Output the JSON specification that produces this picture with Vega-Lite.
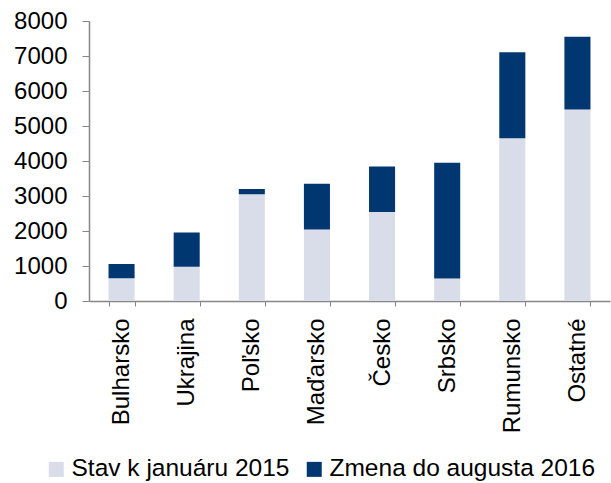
{
  "$schema": "https://vega.github.io/schema/vega-lite/v6.json",
  "width": 521,
  "height": 280,
  "autosize": {"type": "none"},
  "padding": {"left": 89, "top": 21, "right": 1, "bottom": 182},
  "background": "white",
  "config": {
    "view": {"stroke": null},
    "font": "Liberation Sans",
    "axis": {"labelFont": "Liberation Sans", "labelColor": "#000000", "domainColor": "#868686", "tickColor": "#868686", "grid": false, "title": null},
    "legend": {"labelFont": "Liberation Sans", "labelColor": "#000000"}
  },
  "data": {
    "values": [
      {"krajina": "Bulharsko", "seria": "Stav k januáru 2015", "hodnota": 650},
      {"krajina": "Bulharsko", "seria": "Zmena do augusta 2016", "hodnota": 410},
      {"krajina": "Ukrajina", "seria": "Stav k januáru 2015", "hodnota": 980},
      {"krajina": "Ukrajina", "seria": "Zmena do augusta 2016", "hodnota": 980},
      {"krajina": "Poľsko", "seria": "Stav k januáru 2015", "hodnota": 3050},
      {"krajina": "Poľsko", "seria": "Zmena do augusta 2016", "hodnota": 150},
      {"krajina": "Maďarsko", "seria": "Stav k januáru 2015", "hodnota": 2040},
      {"krajina": "Maďarsko", "seria": "Zmena do augusta 2016", "hodnota": 1310},
      {"krajina": "Česko", "seria": "Stav k januáru 2015", "hodnota": 2540},
      {"krajina": "Česko", "seria": "Zmena do augusta 2016", "hodnota": 1300},
      {"krajina": "Srbsko", "seria": "Stav k januáru 2015", "hodnota": 640},
      {"krajina": "Srbsko", "seria": "Zmena do augusta 2016", "hodnota": 3310},
      {"krajina": "Rumunsko", "seria": "Stav k januáru 2015", "hodnota": 4650},
      {"krajina": "Rumunsko", "seria": "Zmena do augusta 2016", "hodnota": 2460},
      {"krajina": "Ostatné", "seria": "Stav k januáru 2015", "hodnota": 5470},
      {"krajina": "Ostatné", "seria": "Zmena do augusta 2016", "hodnota": 2080}
    ]
  },
  "mark": {"type": "bar"},
  "encoding": {
    "x": {
      "field": "krajina",
      "type": "nominal",
      "sort": null,
      "scale": {"paddingInner": 0.6, "paddingOuter": 0.3},
      "axis": {"labelAngle": -90, "labelFontSize": 24, "tickSize": 5, "labelPadding": 12, "tickBand": "extent", "domainWidth": 1.5}
    },
    "y": {
      "field": "hodnota",
      "type": "quantitative",
      "stack": "zero",
      "scale": {"domain": [0, 8000], "nice": false},
      "axis": {"values": [0, 1000, 2000, 3000, 4000, 5000, 6000, 7000, 8000], "format": "d", "labelFontSize": 24, "tickSize": 7, "labelPadding": 15, "domainWidth": 1.5}
    },
    "color": {
      "field": "seria",
      "type": "nominal",
      "scale": {"domain": ["Stav k januáru 2015", "Zmena do augusta 2016"], "range": ["#D9DCE9", "#003770"]},
      "legend": {"title": null, "orient": "none", "direction": "horizontal", "legendX": -45, "legendY": 436, "symbolType": "square", "symbolSize": 225, "symbolStrokeWidth": 0, "labelFontSize": 24.5, "labelOffset": 3, "columnPadding": 12, "labelLimit": 400}
    },
    "order": {"field": "seria", "sort": "ascending"}
  }
}
